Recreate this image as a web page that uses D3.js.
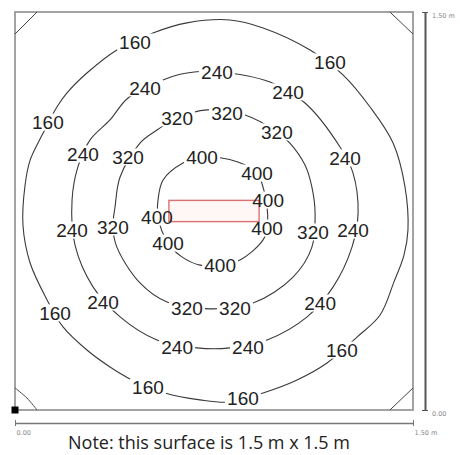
<!DOCTYPE html>
<html>
<head>
<meta charset="utf-8">
<script src="https://cdn.jsdelivr.net/npm/d3@7"></script>
<style>
  body { margin: 0; background: #fff; }
  svg { display: block; }
</style>
</head>
<body>
<svg id="chart" width="460" height="455"></svg>
<script>
// isolux lines on a 1.5 m x 1.5 m surface, points in metres from the bottom-left corner
const surfaceSize = 1.5;
const levels = [160, 240, 320, 400];

const line160 = [[0.810, 1.470], [0.935, 1.440], [1.112, 1.357], [1.236, 1.263], [1.338, 1.142],
  [1.425, 1.006], [1.470, 0.840], [1.481, 0.678], [1.466, 0.584], [1.428, 0.482], [1.376, 0.358],
  [1.289, 0.275], [1.176, 0.177], [1.063, 0.113], [0.935, 0.064], [0.810, 0.030], [0.697, 0.038],
  [0.565, 0.064], [0.426, 0.121], [0.358, 0.162], [0.271, 0.226], [0.181, 0.313], [0.121, 0.415],
  [0.057, 0.554], [0.030, 0.697], [0.038, 0.848], [0.057, 0.942], [0.102, 1.036], [0.158, 1.142],
  [0.196, 1.195], [0.271, 1.270], [0.384, 1.357], [0.520, 1.421], [0.648, 1.459]];
const line240 = [[0.761, 1.274], [0.961, 1.236], [1.093, 1.157], [1.225, 0.991], [1.274, 0.893],
  [1.293, 0.742], [1.270, 0.614], [1.199, 0.464], [1.101, 0.351], [0.950, 0.264], [0.810, 0.234],
  [0.686, 0.234], [0.535, 0.264], [0.396, 0.351], [0.294, 0.464], [0.226, 0.622], [0.215, 0.791],
  [0.237, 0.916], [0.283, 1.018], [0.358, 1.093], [0.426, 1.176], [0.558, 1.244], [0.648, 1.270]];
const line320 = [[0.724, 1.131], [0.867, 1.112], [0.987, 1.048], [1.036, 1.006], [1.093, 0.923],
  [1.119, 0.840], [1.131, 0.742], [1.119, 0.614], [1.048, 0.501], [0.897, 0.403], [0.735, 0.381],
  [0.573, 0.407], [0.471, 0.479], [0.384, 0.614], [0.369, 0.690], [0.377, 0.765], [0.396, 0.878],
  [0.471, 1.006], [0.535, 1.055], [0.611, 1.101]];
const line400 = [[0.705, 0.954], [0.840, 0.935], [0.912, 0.893], [0.946, 0.791], [0.950, 0.686],
  [0.935, 0.641], [0.848, 0.565], [0.773, 0.546], [0.697, 0.546], [0.629, 0.577], [0.577, 0.629],
  [0.539, 0.727], [0.539, 0.791], [0.558, 0.867], [0.633, 0.931]];

const labels160 = [[0.452, 1.387], [1.187, 1.312], [0.124, 1.085], [1.232, 0.226], [0.151, 0.366],
  [0.501, 0.087], [0.859, 0.045]];
const labels240 = [[0.761, 1.274], [0.490, 1.214], [1.029, 1.199], [0.256, 0.965], [1.244, 0.950],
  [0.215, 0.678], [1.274, 0.678], [0.332, 0.407], [1.150, 0.403], [0.611, 0.237], [0.878, 0.237]];
const labels320 = [[0.611, 1.101], [0.799, 1.119], [0.987, 1.048], [0.426, 0.954], [0.369, 0.690],
  [1.123, 0.671], [0.648, 0.384], [0.829, 0.384]];
const labels400 = [[0.705, 0.954], [0.912, 0.893], [0.954, 0.791], [0.950, 0.686], [0.773, 0.546],
  [0.577, 0.629], [0.535, 0.727]];

// luminaire footprint: x0, y0, x1, y1
const luminaire = [0.58, 0.71, 0.92, 0.79];

// little corner chamfers
const cornerCuts = [
  [[0, 1.417], [0.083, 1.5]],
  [[1.413, 1.5], [1.5, 1.417]],
  [[0, 0.083], [0.045, 0.045], [0.083, 0]],
  [[1.413, 0], [1.5, 0.083]]
];

const tickValues = [0, 1.5];
const tickLabels = ["0.00", "1.50 m"];
const note = "Note: this surface is 1.5 m x 1.5 m";

const lines = [line160, line240, line320, line400];
const labels = [labels160, labels240, labels320, labels400];

const svg = d3.select("#chart");

const x = d3.scaleLinear().domain([0, surfaceSize]).range([15, 413]);
const y = d3.scaleLinear().domain([0, surfaceSize]).range([410, 12]);

// surface outline
svg.append("rect")
  .attr("x", x(0))
  .attr("y", y(surfaceSize))
  .attr("width", x(surfaceSize) - x(0))
  .attr("height", y(0) - y(surfaceSize))
  .attr("fill", "#fff")
  .attr("stroke", "#999")
  .attr("stroke-width", 1.8);

const seg = d3.line()
  .x((d) => x(d[0]))
  .y((d) => y(d[1]))
  .curve(d3.curveCatmullRom);

svg.append("g")
  .selectAll("path")
  .data(cornerCuts)
  .join("path")
  .attr("d", seg)
  .attr("fill", "none")
  .attr("stroke", "#444")
  .attr("stroke-width", 1);

const contour = d3.line()
  .x((d) => x(d[0]))
  .y((d) => y(d[1]))
  .curve(d3.curveCatmullRomClosed.alpha(0.5));

svg.append("g")
  .selectAll("path")
  .data(lines)
  .join("path")
  .attr("d", contour)
  .attr("fill", "none")
  .attr("stroke", "#3a3a3a")
  .attr("stroke-width", 1.1);

// flatten labels with their level
const labelData = [];
labels.forEach((list, i) => {
  list.forEach((p) => labelData.push({ value: levels[i], x: p[0], y: p[1] }));
});

// white boxes break the lines under the labels
svg.append("g")
  .selectAll("rect")
  .data(labelData)
  .join("rect")
  .attr("x", (d) => x(d.x) - 18)
  .attr("y", (d) => y(d.y) - 8.5)
  .attr("width", 36)
  .attr("height", 17)
  .attr("fill", "#fff");

svg.append("rect")
  .attr("x", x(luminaire[0]))
  .attr("y", y(luminaire[3]))
  .attr("width", x(luminaire[2]) - x(luminaire[0]))
  .attr("height", y(luminaire[1]) - y(luminaire[3]))
  .attr("fill", "#fff6f6")
  .attr("stroke", "#dd7073")
  .attr("stroke-width", 1.4);

svg.append("g")
  .selectAll("text")
  .data(labelData)
  .join("text")
  .attr("x", (d) => x(d.x))
  .attr("y", (d) => y(d.y))
  .attr("dy", "0.36em")
  .attr("text-anchor", "middle")
  .attr("font-family", "Liberation Sans, Arial, sans-serif")
  .attr("font-size", 19)
  .attr("fill", "#222")
  .text((d) => d.value);

// origin marker
svg.append("rect")
  .attr("x", x(0) - 3.5)
  .attr("y", y(0) - 3.5)
  .attr("width", 7)
  .attr("height", 7)
  .attr("fill", "#000");

// dimension lines
const bottomAxis = svg.append("g")
  .attr("transform", "translate(0,423)")
  .call(d3.axisBottom(x).tickValues(tickValues).tickFormat((d, i) => tickLabels[i])
    .tickSizeOuter(0).tickSizeInner(3));
bottomAxis.select(".domain").attr("stroke", "#777").attr("stroke-width", 1.5);
bottomAxis.selectAll(".tick line").attr("y1", -3).attr("y2", 3).attr("stroke", "#777");
bottomAxis.selectAll(".tick text")
  .attr("text-anchor", "start")
  .attr("x", 1)
  .attr("y", 7)
  .attr("font-family", "DejaVu Sans, sans-serif")
  .attr("font-size", 6.5)
  .attr("fill", "#888");

const rightAxis = svg.append("g")
  .attr("transform", "translate(425,0)")
  .call(d3.axisRight(y).tickValues(tickValues).tickFormat((d, i) => tickLabels[i])
    .tickSizeOuter(0).tickSizeInner(3));
rightAxis.select(".domain").attr("stroke", "#555").attr("stroke-width", 2);
rightAxis.selectAll(".tick line").attr("x1", -3).attr("x2", 3).attr("stroke", "#555");
rightAxis.selectAll(".tick text")
  .attr("x", 7)
  .attr("dy", "0.9em")
  .attr("font-family", "DejaVu Sans, sans-serif")
  .attr("font-size", 6.5)
  .attr("fill", "#888");

svg.append("text")
  .attr("x", 209)
  .attr("y", 449)
  .attr("text-anchor", "middle")
  .attr("font-family", "Open Sans, sans-serif")
  .attr("font-size", 18)
  .attr("fill", "#222")
  .text(note);
</script>
</body>
</html>
